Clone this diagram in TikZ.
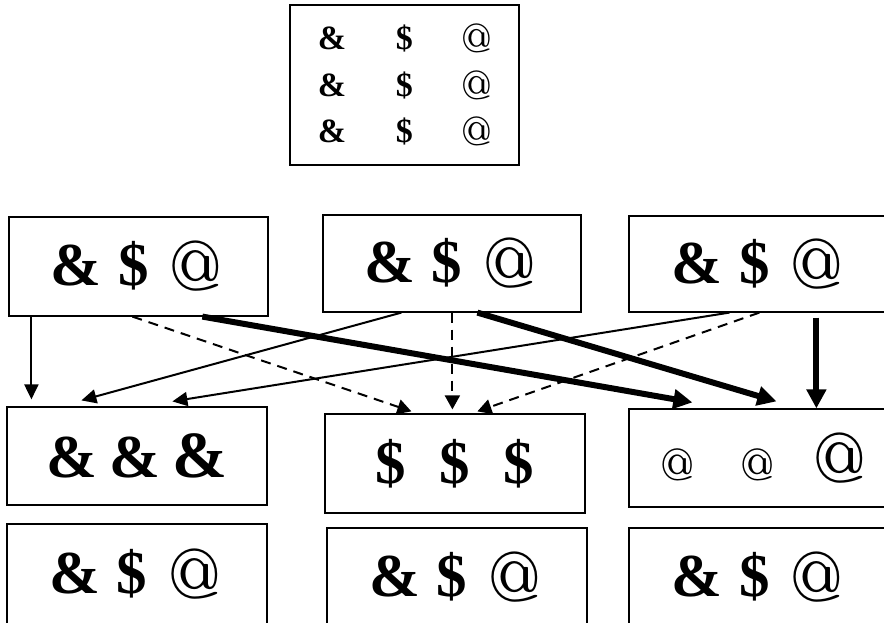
\documentclass[tikz,border=0pt]{standalone}
\usepackage{fontspec}
\setmainfont{Liberation Serif}
\newfontfamily\atfont{lmroman5-regular.otf}
% the at-sign, drawn at a given size and made round
\newcommand{\At}[1]{{\atfont\fontsize{#1}{#1}\selectfont\raisebox{-0.08em}{\scalebox{0.86}[1.1]{@}}}}
% one "& $ @" group with fixed glyph centres
\newcommand{\trio}{\makebox[50pt]{\textbf{\&}}\makebox[65pt]{\textbf{\$}}\makebox[60pt]{\At{64}}}
\newcommand{\keyrow}{\makebox[72.5pt]{\textbf{\&}}\makebox[72.5pt]{\textbf{\$}}\makebox[72.5pt]{\At{37}}}
\usetikzlibrary{arrows.meta}
\begin{document}
\begin{tikzpicture}[x=1pt,y=-1pt,
  box/.style={draw,line width=1.2pt,rectangle,inner sep=0pt},
  big/.style={font=\fontsize{61}{70}\selectfont},
  thinarrow/.style={line width=2pt,-{Triangle[length=15pt,width=14pt]}},
  dasharrow/.style={line width=2pt,dash pattern=on 10pt off 7pt,-{Triangle[length=14pt,width=15pt]}},
  thickarrow/.style={line width=6pt,-{Triangle[length=19pt,width=19pt]}},
]
\clip (0,0) rectangle (884,623);

% legend box
\node[box,minimum width=229pt,minimum height=160pt,align=center,
      font=\fontsize{34}{46.5}\selectfont] (key) at (404.5,85)
  {\keyrow\\ \keyrow\\ \keyrow};

% upper row
\node[box,big,minimum width=259pt,minimum height=99pt] (A) at (138.5,266.5) {\trio};
\node[box,big,minimum width=258pt,minimum height=97pt] (B) at (452,263.5) {\trio\hspace{6pt}};
\node[box,big,minimum width=261pt,minimum height=96pt] (C) at (759.5,264) {\trio\hspace{5pt}};

% middle row
\node[box,big,minimum width=260pt,minimum height=98pt] (D) at (137,456)
  {\makebox[63pt]{\textbf{\&}}\makebox[63pt]{\textbf{\&}}\makebox[67pt]{\fontsize{66}{70}\selectfont\textbf{\&}}};
\node[box,big,minimum width=260pt,minimum height=99pt] (E) at (455,463.5)
  {\makebox[64pt]{\textbf{\$}}\makebox[64pt]{\textbf{\$}}\makebox[64pt]{\textbf{\$}}};
\node[box,big,minimum width=261pt,minimum height=98pt] (F) at (759.5,458)
  {\makebox[80pt]{\At{41}}\makebox[80pt]{\At{41}}\makebox[84pt]{\At{64}}\hspace{5pt}};

% lower row
\node[box,big,minimum width=260pt,minimum height=100.5pt] (G) at (137,574.25) {\trio};
\node[box,big,minimum width=260pt,minimum height=98pt] (H) at (457,577) {\trio};
\node[box,big,minimum width=261pt,minimum height=98pt] (I) at (759.5,577) {\trio};

% connectors
\draw[thinarrow] ([xshift=23pt]A.south west) -- ([xshift=25pt,yshift=7pt]D.north west);
\draw[dasharrow] ([xshift=124pt]A.south west) -- ([xshift=87pt,yshift=2pt]E.north west);
\draw[thickarrow] ([xshift=194pt]A.south west) -- ([xshift=64pt,yshift=6pt]F.north west);

\draw[thinarrow] ([xshift=79pt]B.south west) -- ([xshift=75pt,yshift=6pt]D.north west);
\draw[dasharrow] ([xshift=130pt]B.south west) -- ([xshift=128pt,yshift=4pt]E.north west);
\draw[thickarrow] ([xshift=155pt]B.south west) -- ([xshift=148pt,yshift=7pt]F.north west);

\draw[thinarrow] ([xshift=101pt]C.south west) -- ([xshift=166pt,yshift=5pt]D.north west);
\draw[dasharrow] ([xshift=131pt]C.south west) -- ([xshift=153pt,yshift=2pt]E.north west);
\draw[thickarrow] ([xshift=188pt,yshift=-5pt]C.south west) -- ([xshift=188pt]F.north west);
\end{tikzpicture}
\end{document}
